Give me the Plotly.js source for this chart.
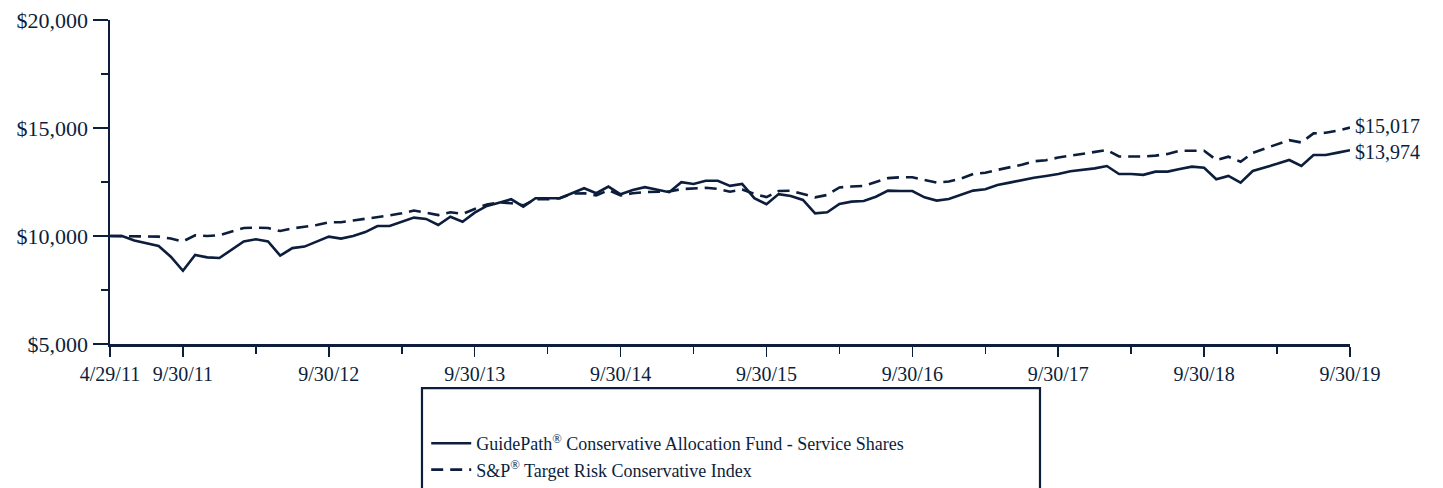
<!DOCTYPE html>
<html>
<head>
<meta charset="utf-8">
<script src="https://cdn.plot.ly/plotly-3.0.1.min.js"></script>
<style>
  html, body { margin: 0; padding: 0; background: #ffffff; }
  #chart { width: 1443px; height: 488px; }
</style>
</head>
<body>
<div id="chart"></div>
<script>
// Growth of a $10,000 investment, inception 4/29/11 through 9/30/19 (month-end values)

// Period labels: inception date, then every month-end from 4/30/11 to 9/30/19
const periods = ['4/29/11'];
for (let y = 2011, m = 3; y < 2019 || (y === 2019 && m <= 8); m++) {
  if (m > 11) { m = 0; y++; }
  const lastDay = new Date(y, m + 1, 0).getDate();
  periods.push((m + 1) + '/' + lastDay + '/' + String(y).slice(2));
  if (y === 2019 && m === 8) break;
}

const fundName = 'GuidePath<sup>®</sup> Conservative Allocation Fund - Service Shares';
const indexName = 'S&amp;P<sup>®</sup> Target Risk Conservative Index';

const fundValues = [
  10000, 10000, 9790, 9660, 9540, 9040, 8390, 9120, 9010, 8980,
  9380, 9750, 9850, 9750, 9090, 9440, 9510, 9740, 9970, 9880,
  10000, 10180, 10460, 10460, 10660, 10850, 10790, 10510, 10890, 10660,
  11080, 11390, 11540, 11700, 11360, 11750, 11750, 11750, 11980, 12210,
  11980, 12290, 11930, 12130, 12260, 12130, 12030, 12490, 12410, 12560,
  12560, 12320, 12410, 11750, 11470, 11940, 11850, 11670, 11050, 11100,
  11480, 11590, 11620, 11820, 12100, 12080, 12080, 11790, 11640, 11710,
  11900, 12100, 12160, 12360, 12470, 12590, 12700, 12780, 12870, 13000,
  13060, 13130, 13240, 12870, 12870, 12830, 12980, 12980, 13100, 13210,
  13160, 12630, 12780, 12470, 13010, 13160, 13340, 13520, 13240, 13750,
  13750, 13860, 13974
];

const indexValues = [
  10000, 10000, 9970, 10000, 9970, 9880, 9750, 10030, 10000, 10040,
  10200, 10370, 10390, 10370, 10230, 10350, 10430, 10510, 10630, 10640,
  10720, 10790, 10870, 10950, 11050, 11180, 11080, 10970, 11100, 11020,
  11250, 11460, 11560, 11520, 11420, 11700, 11700, 11750, 11960, 11980,
  11880, 12120, 11880, 11980, 12030, 12030, 12060, 12170, 12200, 12230,
  12180, 12050, 12150, 11950, 11800, 12080, 12100, 11950, 11790, 11900,
  12250, 12290, 12320, 12500, 12680, 12720, 12720, 12590, 12470, 12520,
  12660, 12870, 12930, 13060, 13180, 13300, 13460, 13510, 13630, 13720,
  13830, 13900, 13980, 13680, 13670, 13680, 13720, 13800, 13950, 13960,
  13950, 13520, 13670, 13440, 13850, 14050, 14250, 14440, 14330, 14750,
  14780, 14880, 15017
];

// Axis labels
const xTickLabels = ['4/29/11', '9/30/11', '9/30/12', '9/30/13', '9/30/14',
                     '9/30/15', '9/30/16', '9/30/17', '9/30/18', '9/30/19'];
const xMinorTicks = ['3/31/12', '3/31/13', '3/31/14', '3/31/15',
                     '3/31/16', '3/31/17', '3/31/18', '3/31/19'];
const yTickValues = [5000, 10000, 15000, 20000];

const ink = '#0c1e3c';
const serif = '"Liberation Serif", "Times New Roman", Times, serif';
const money = v => '$' + v.toLocaleString('en-US');

const traces = [
  {
    x: periods, y: fundValues, name: fundName, type: 'scatter', mode: 'lines',
    line: { color: ink, width: 2.6 }
  },
  {
    x: periods, y: indexValues, name: indexName, type: 'scatter', mode: 'lines',
    line: { color: ink, width: 2.6, dash: '12px,7px' }
  }
];

// Ending values written beside the last point of each line
const lastIdx = periods.length - 1;
const endLabels = [
  { value: indexValues[lastIdx], nudge: 2 },
  { value: fundValues[lastIdx], nudge: -2 }
].map(d => ({
  x: periods[lastIdx], y: d.value, xref: 'x', yref: 'y',
  text: money(d.value), showarrow: false, xanchor: 'left', yanchor: 'middle',
  xshift: 4, yshift: d.nudge, borderpad: 0,
  font: { family: serif, size: 20, color: ink }
}));

const layout = {
  width: 1443, height: 488,
  margin: { l: 110, r: 93, t: 20, b: 144, autoexpand: false },
  paper_bgcolor: '#ffffff', plot_bgcolor: '#ffffff',
  showlegend: true,
  legend: {
    x: 0.255, xanchor: 'left', y: -0.25, yanchor: 'top',
    orientation: 'v', traceorder: 'normal',
    font: { family: serif, size: 18, color: ink },
    bgcolor: 'rgba(0,0,0,0)', borderwidth: 0,
    itemwidth: 40, tracegroupgap: 0
  },
  xaxis: {
    type: 'category', range: [0, lastIdx],
    tickmode: 'array', tickvals: xTickLabels, ticktext: xTickLabels,
    ticks: 'outside', ticklen: 10, tickwidth: 1.5, tickcolor: ink,
    minor: { tickmode: 'array', tickvals: xMinorTicks, ticks: 'outside',
             ticklen: 7, tickwidth: 1.5, tickcolor: ink },
    showline: true, linecolor: ink, linewidth: 2.5,
    showgrid: false, zeroline: false, automargin: false,
    tickfont: { family: serif, size: 20, color: ink }
  },
  yaxis: {
    range: [5000, 20000],
    tickmode: 'array', tickvals: yTickValues, ticktext: yTickValues.map(money),
    ticks: 'outside', ticklen: 15, tickwidth: 1.5, tickcolor: ink,
    minor: { dtick: 2500, tick0: 0, ticks: 'outside', ticklen: 7,
             tickwidth: 1.5, tickcolor: ink },
    showline: true, linecolor: ink, linewidth: 2.5,
    showgrid: false, zeroline: false, automargin: false,
    tickfont: { family: serif, size: 22, color: ink }
  },
  annotations: endLabels,
  shapes: [
    // frame around the legend
    { type: 'rect', xref: 'paper', yref: 'paper',
      x0: 0.2516, x1: 0.75, y0: -0.48, y1: -0.136,
      line: { color: ink, width: 2.2 }, fillcolor: 'rgba(0,0,0,0)' }
  ]
};

Plotly.newPlot('chart', traces, layout, { displayModeBar: false, staticPlot: true });
</script>
</body>
</html>
